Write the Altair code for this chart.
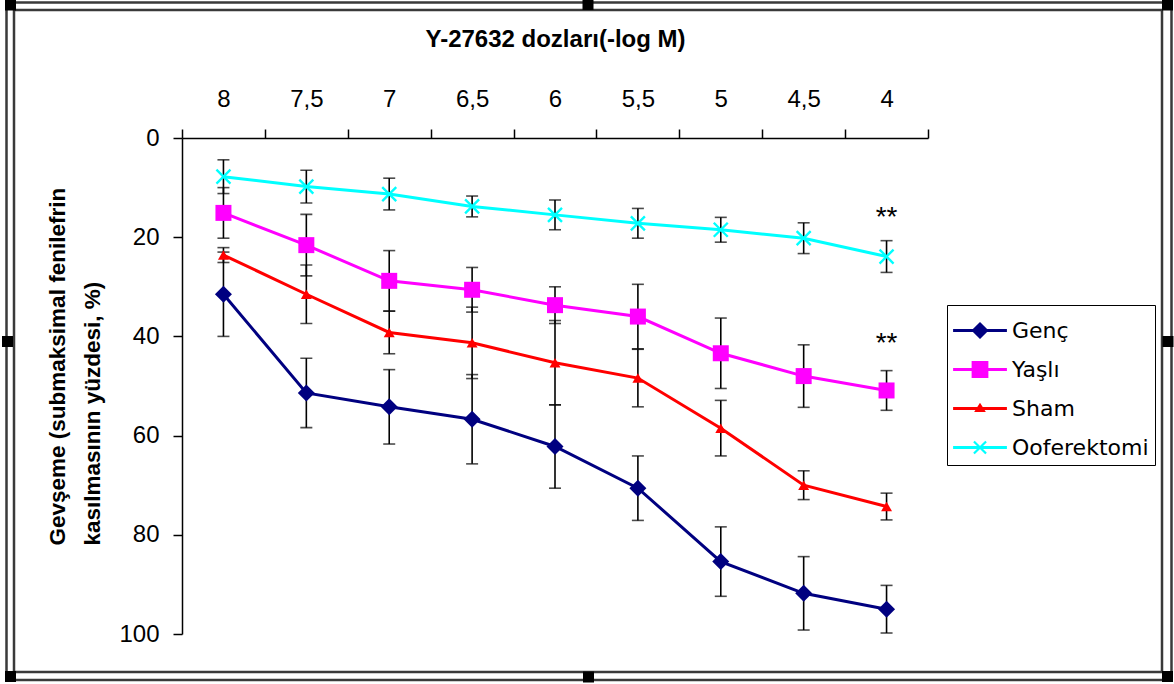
import altair as alt
import pandas as pd

# Y-27632 doses (-log M), as printed on the axis
doses = ["8", "7,5", "7", "6,5", "6", "5,5", "5", "4,5", "4"]
groups = ["Genç", "Yaşlı", "Sham", "Ooferektomi"]
colors = ["#000080", "#FF00FF", "#FF0000", "#00FFFF"]

# Relaxation (% of submaximal phenylephrine contraction) and error per group
genc = [31.5, 51.4, 54.2, 56.7, 62.2, 70.6, 85.4, 91.8, 95.0]
genc_err = [8.5, 7.0, 7.5, 9.0, 8.4, 6.5, 7.0, 7.4, 4.8]
yasli = [15.1, 21.6, 28.8, 30.6, 33.7, 36.0, 43.4, 48.0, 50.9]
yasli_err = [5.1, 6.2, 6.1, 4.5, 3.7, 6.5, 7.1, 6.3, 4.0]
sham = [23.6, 31.5, 39.2, 41.3, 45.3, 48.4, 58.5, 70.0, 74.3]
sham_err = [1.5, 5.9, 4.3, 7.2, 8.5, 5.8, 5.6, 2.9, 2.7]
oof = [7.8, 9.8, 11.3, 13.8, 15.5, 17.2, 18.5, 20.2, 23.9]
oof_err = [3.4, 3.3, 3.2, 2.1, 3.0, 3.0, 2.5, 3.1, 3.2]

# significance marks at the highest dose
star_doses = ["4", "4"]
star_values = [15.5, 40.9]
star_text = ["**", "**"]

values = [genc, yasli, sham, oof]
errors = [genc_err, yasli_err, sham_err, oof_err]

rows = []
for g, vals, errs in zip(groups, values, errors):
    for d, v, e in zip(doses, vals, errs):
        rows.append({"doz": d, "grup": g, "deger": v, "alt": v - e, "ust": v + e})
df = pd.DataFrame(rows)
stars = pd.DataFrame({"doz": star_doses, "deger": star_values, "t": star_text})

# ---- layout (pixels) ----
W, H = 746, 496
LEFT, TOP = 182, 138
PAGE_W, PAGE_H = 1174, 684
FONT = "Liberation Sans"

x_enc = alt.X(
    "doz:N",
    sort=doses,
    scale=alt.Scale(type="band", domain=doses, paddingInner=0, paddingOuter=0),
    axis=alt.Axis(
        orient="top", tickBand="extent", labelAngle=0, tickSize=9,
        labelPadding=18, labelFontSize=24, labelFont=FONT, labelColor="black",
        domainColor="black", tickColor="black", domainWidth=1.5, tickWidth=1.5,
        title="Y-27632 dozları(-log M)", titleFont=FONT, titleFontSize=24,
        titleFontWeight="bold", titlePadding=36, titleColor="black", grid=False,
    ),
)
y_scale = alt.Scale(domain=[0, 100], reverse=True, nice=False)
y_axis = alt.Axis(
    values=[0, 20, 40, 60, 80, 100], tickSize=9, labelPadding=14,
    labelFontSize=24, labelFont=FONT, labelColor="black",
    domainColor="black", tickColor="black", domainWidth=1.5, tickWidth=1.5,
    title=["Gevşeme (submaksimal fenilefrin", "kasılmasının yüzdesi, %)"],
    titleFont=FONT, titleFontSize=22.5, titleFontWeight="bold", titleColor="black",
    titleLineHeight=35, titlePadding=14, titleAlign="left", titleY=407, grid=False,
)

# custom marker paths (unit box -1..1)
x_path = ("M-0.88,-1.12L1.12,0.88L0.88,1.12L-1.12,-0.88Z"
          "M1.12,-0.88L-0.88,1.12L-1.12,0.88L0.88,-1.12Z")
markers = [
    {"shape": "diamond", "size": 289},
    {"shape": "square", "size": 256},
    {"shape": "triangle-up", "size": 120},
    {"shape": x_path, "size": 196},
]

# legend symbols: a line segment with the series marker on it
seg = "M-1.38,-0.077H1.38V0.077H-1.38Z"
legend_paths = [
    seg + "M0,-0.44L0.44,0L0,0.44L-0.44,0Z",
    seg + "M-0.43,-0.43H0.43V0.43H-0.43Z",
    seg + "M0,-0.3L0.3,0.18H-0.3Z",
    seg + ("M-0.27,-0.35L0.35,0.27L0.27,0.35L-0.35,-0.27Z"
           "M0.35,-0.27L-0.27,0.35L-0.35,0.27L0.27,-0.35Z"),
]

base = alt.Chart(df)
layers = []

for g, col, mk in zip(groups, colors, markers):
    sub = base.transform_filter(alt.datum.grup == g)
    bar = sub.mark_rule(color="black", strokeWidth=1.6).encode(
        x=x_enc, y=alt.Y("alt:Q", scale=y_scale, axis=y_axis), y2="ust:Q")
    cap_lo = sub.mark_tick(color="black", size=12, thickness=1.6).encode(
        x=x_enc, y=alt.Y("alt:Q", scale=y_scale, axis=y_axis))
    cap_hi = sub.mark_tick(color="black", size=12, thickness=1.6).encode(
        x=x_enc, y=alt.Y("ust:Q", scale=y_scale, axis=y_axis))
    line = sub.mark_line(color=col, strokeWidth=3).encode(
        x=x_enc, y=alt.Y("deger:Q", scale=y_scale, axis=y_axis))
    pts = sub.mark_point(filled=True, color=col, shape=mk["shape"], size=mk["size"],
                         opacity=1).encode(
        x=x_enc, y=alt.Y("deger:Q", scale=y_scale, axis=y_axis))
    layers += [bar, cap_lo, cap_hi, line, pts]

star_layer = alt.Chart(stars).mark_text(
    font=FONT, fontSize=28, color="black", baseline="middle", align="center", dy=3
).encode(x=x_enc, y=alt.Y("deger:Q", scale=y_scale, axis=y_axis), text="t:N")
layers.append(star_layer)

legend = alt.Legend(
    title=None, orient="none", legendX=765, legendY=167, direction="vertical",
    symbolSize=1521, symbolOffset=7.5, labelOffset=12.5, padding=6, rowPadding=8,
    labelFont="DejaVu Sans", labelFontSize=22, labelColor="black",
    strokeColor="black", fillColor="white", symbolStrokeWidth=0, symbolOpacity=1,
)
legend_layer = base.mark_point(filled=True, opacity=1).encode(
    fill=alt.Fill("grup:N", scale=alt.Scale(domain=groups, range=colors), legend=legend),
    shape=alt.Shape("grup:N", scale=alt.Scale(domain=groups, range=legend_paths),
                    legend=legend),
).transform_filter("false")
layers.append(legend_layer)

# chart-area frame: double border with sizing handles
frame = pd.DataFrame({
    "x0": [6.5 - LEFT, 14 - LEFT], "x1": [1171.5 - LEFT, 1162 - LEFT],
    "y0": [2.5 - TOP, 10 - TOP], "y1": [680 - TOP, 672 - TOP],
})
frame_layer = alt.Chart(frame).mark_rect(fill=None, stroke="#3a3a3a", strokeWidth=2.5).encode(
    x=alt.X("x0:Q", scale=None), x2="x1:Q", y=alt.Y("y0:Q", scale=None), y2="y1:Q")
hx = [10.5, 588, 1167.5, 7.5, 1168, 10.5, 588.5, 1167.5]
hy = [5, 4.5, 5, 341.5, 341.5, 676.5, 677, 676.5]
handles = pd.DataFrame({
    "x0": [v - 5.5 - LEFT for v in hx], "x1": [v + 5.5 - LEFT for v in hx],
    "y0": [v - 5.5 - TOP for v in hy], "y1": [v + 5.5 - TOP for v in hy],
})
handle_layer = alt.Chart(handles).mark_rect(fill="black").encode(
    x=alt.X("x0:Q", scale=None), x2="x1:Q", y=alt.Y("y0:Q", scale=None), y2="y1:Q")

chart = alt.layer(frame_layer, handle_layer, *layers).properties(
    width=W, height=H,
    padding={"left": LEFT, "top": TOP, "right": PAGE_W - LEFT - W, "bottom": PAGE_H - TOP - H},
    autosize=alt.AutoSizeParams(type="none"),
    background="white",
).configure_view(stroke=None)

chart.save("out.html", embed_options={"renderer": "svg", "actions": False})
